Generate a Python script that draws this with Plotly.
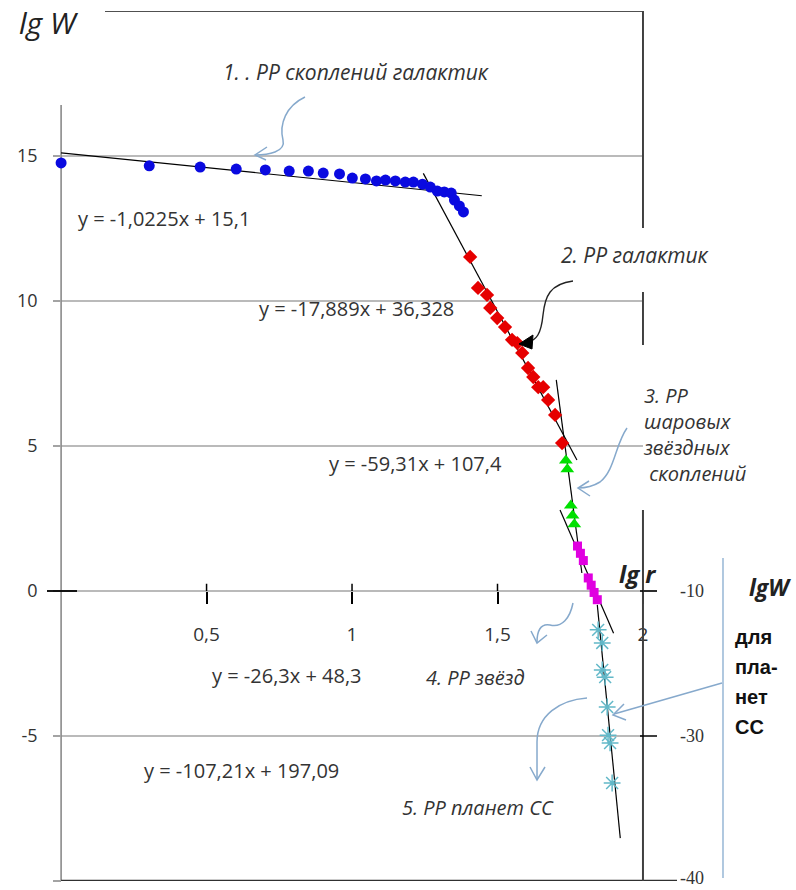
import plotly.graph_objects as go

# ---------------- data ----------------
blue_x = [0.0, 0.303, 0.478, 0.602, 0.702, 0.784, 0.850, 0.901, 0.957, 1.001, 1.046, 1.084,
          1.115, 1.149, 1.183, 1.211, 1.242, 1.269, 1.293, 1.317, 1.341, 1.352, 1.369, 1.383]
blue_y = [14.76, 14.66, 14.62, 14.55, 14.52, 14.48, 14.48, 14.41, 14.38, 14.24, 14.21, 14.14,
          14.17, 14.14, 14.10, 14.10, 14.03, 13.93, 13.79, 13.76, 13.72, 13.48, 13.28, 13.07]

red_x = [1.406, 1.433, 1.464, 1.475, 1.499, 1.526, 1.550, 1.568, 1.585, 1.605, 1.623, 1.640,
         1.657, 1.674, 1.698, 1.722]
red_y = [11.52, 10.45, 10.21, 9.76, 9.41, 9.10, 8.66, 8.55, 8.21, 7.69, 7.38, 7.03,
         7.03, 6.59, 6.07, 5.10]

green_x = [1.735, 1.740, 1.752, 1.758, 1.764]
green_y = [4.50, 4.20, 2.95, 2.60, 2.30]

magenta_x = [1.775, 1.785, 1.795, 1.812, 1.822, 1.832, 1.843]
magenta_y = [1.55, 1.30, 1.05, 0.45, 0.20, -0.05, -0.30]

cyan_x = [1.846, 1.860, 1.860, 1.870, 1.877, 1.880, 1.887, 1.894]
cyan_y = [-1.34, -1.79, -2.72, -2.97, -4.00, -4.97, -5.24, -6.62]

# trend lines: endpoints
trend_x = [[0.0, 1.446], [1.245, 1.773], [1.702, 1.790], [1.715, 1.899], [1.843, 1.922]]
trend_y = [[15.11, 13.63], [14.40, 4.52], [7.28, 0.62], [2.79, -1.46], [-0.48, -8.52]]
trend_labels = ["y = -1,0225x + 15,1", "y = -17,889x + 36,328", "y = -59,31x + 107,4",
                "y = -26,3x + 48,3", "y = -107,21x + 197,09"]

x_tick_vals = [0.5, 1, 1.5, 2]
x_tick_text = ["0,5", "1", "1,5", "2"]
y_tick_vals = [-10, -5, 0, 5, 10, 15]
y_tick_text = ["-10", "-5", "0", "5", "10", "15"]
grid_vals = [15, 10, 5, 0, -5]
right_tick_vals = [0, -5, -10]
right_tick_text = ["-10", "-30", "-40"]
planet_note = ["для", "пла-", "нет", "СС"]

# ---------------- layout helpers ----------------
W, H = 796, 890
XR = [-0.21, 2.526]
YR = [-10, 20]
MT, MB = 11, 9


def P(px, py):
    """pixel position of the page -> data coordinates (for decorations only)"""
    x = XR[0] + px / W * (XR[1] - XR[0])
    y = YR[1] - (py - MT) / (H - MT - MB) * (YR[1] - YR[0])
    return x, y


def path_from(pts, cmds):
    s = ""
    i = 0
    for c in cmds:
        n = {"M": 1, "L": 1, "C": 3}[c]
        s += c + " " + " ".join("%.4f,%.4f" % P(*pts[i + k]) for k in range(n)) + " "
        i += n
    return s.strip()


fig = go.Figure()

TXT = "#333333"
FONT = "Open Sans"
ARROW = "#86a9cc"

# trend lines
for tx, ty in zip(trend_x, trend_y):
    fig.add_trace(go.Scatter(x=tx, y=ty, mode="lines", line=dict(color="black", width=1.2),
                             hoverinfo="skip", showlegend=False))

fig.add_trace(go.Scatter(x=blue_x, y=blue_y, mode="markers", showlegend=False,
                         marker=dict(symbol="circle", size=11, color="#0a0ae0")))
fig.add_trace(go.Scatter(x=red_x, y=red_y, mode="markers", showlegend=False,
                         marker=dict(symbol="diamond", size=11, color="#e60000")))
fig.add_trace(go.Scatter(x=green_x, y=green_y, mode="markers", showlegend=False,
                         marker=dict(symbol="triangle-up", size=12, color="#00e000")))
fig.add_trace(go.Scatter(x=magenta_x, y=magenta_y, mode="markers", showlegend=False,
                         marker=dict(symbol="square", size=9, color="#e000e0")))
fig.add_trace(go.Scatter(x=cyan_x, y=cyan_y, mode="markers", showlegend=False,
                         marker=dict(symbol="asterisk-open", size=14, color="#62b8c8",
                                     line=dict(color="#62b8c8", width=1.5))))

shapes = []
# grid lines
for g in grid_vals:
    shapes.append(dict(type="line", xref="x", yref="y", x0=0, x1=2, y0=g, y1=g,
                       line=dict(color="#a3a3a3", width=1.6), layer="below"))
# frame
x0l, ytopl = P(0, 105)
shapes.append(dict(type="line", x0=0, x1=0, y0=-10, y1=ytopl, line=dict(color="#8a8a8a", width=1.6), layer="below"))
xt0, _ = P(105, 0)
shapes.append(dict(type="line", x0=xt0, x1=2, y0=20, y1=20, line=dict(color="#505050", width=2.2)))
xb1, _ = P(677, 0)
shapes.append(dict(type="line", x0=0, x1=xb1, y0=-10, y1=-10, line=dict(color="#303030", width=2.4)))
for a, b in [(11, 228), (292, 345), (510, 881)]:
    _, ya = P(0, a)
    _, yb = P(0, b)
    shapes.append(dict(type="line", x0=2, x1=2, y0=ya, y1=yb, line=dict(color="#404040", width=2)))
# black ticks on x axis (crossing) and at y = 0
for v in x_tick_vals[:-1]:
    shapes.append(dict(type="line", x0=v, x1=v, y0=0.25, y1=0, line=dict(color="black", width=1.5)))
xa, _ = P(47, 0)
xb, _ = P(77, 0)
shapes.append(dict(type="line", x0=xa, x1=xb, y0=0, y1=0, line=dict(color="black", width=1.8)))
# right secondary-axis ticks
xr0, _ = P(640, 0)
xr1, _ = P(657, 0)
xz1, _ = P(657, 0)
shapes.append(dict(type="line", x0=2, x1=xz1, y0=0, y1=0, line=dict(color="#a3a3a3", width=1.6)))
for v in right_tick_vals[:2]:
    shapes.append(dict(type="line", x0=xr0, x1=xr1, y0=v, y1=v, line=dict(color="black", width=1.5)))
# light blue divider
xd, yd0 = P(723, 558)
_, yd1 = P(723, 878)
shapes.append(dict(type="line", x0=xd, x1=xd, y0=yd0, y1=yd1, line=dict(color="#9dbbd8", width=1.6)))

# curvy arrows
def add_path(pts, cmds, color, width=1.5, fill=None):
    d = dict(type="path", xref="x", yref="y", path=path_from(pts, cmds) + (" Z" if fill else ""),
             line=dict(color=color, width=width))
    if fill:
        d["fillcolor"] = fill
    shapes.append(d)

# 1
add_path([(305, 97), (286, 106), (279, 124), (283, 140), (286, 152), (268, 155), (255, 155)], "MCC", ARROW)
add_path([(267, 147), (255, 155), (266, 160)], "MLL", ARROW)
# 2 (black)
add_path([(573, 281), (550, 284), (545, 296), (543, 315), (541, 335), (536, 340), (528, 342)], "MCC", "#222222", 1.4)
add_path([(519, 344), (533, 335), (532, 349)], "MLL", "black", 1, fill="black")
# 3
add_path([(627, 428), (615, 445), (615, 470), (600, 482), (592, 487), (585, 488), (578, 488)], "MCC", ARROW)
add_path([(589, 481), (578, 488), (590, 496)], "MLL", ARROW)
# 4
add_path([(573, 603), (570, 618), (562, 628), (550, 625), (540, 623), (537, 632), (537, 642)], "MCC", ARROW)
add_path([(531, 631), (537, 643), (547, 635)], "MLL", ARROW)
# 5
add_path([(587, 698), (560, 700), (537, 715), (537, 742), (537, 779)], "MCL", ARROW)
add_path([(530, 767), (537, 780), (545, 767)], "MLL", ARROW)
# 6 straight
add_path([(722, 683), (614, 714)], "ML", ARROW)
add_path([(624, 704), (613, 715), (626, 720)], "MLL", ARROW)

ann = []


def A(text, px, py, size=17, italic=False, bold=False, color=TXT, align="center", xanchor="center",
      family=FONT):
    x, y = P(px, py)
    t = text
    if bold:
        t = "<b>" + t + "</b>"
    if italic:
        t = "<i>" + t + "</i>"
    ann.append(dict(x=x, y=y, xref="x", yref="y", text=t, showarrow=False, align=align,
                    xanchor=xanchor, yanchor="middle",
                    font=dict(size=size, color=color, family=family)))


A("lg W", 49, 22, size=30, italic=True, color="#222222")
A("1. . РР скоплений галактик", 356, 72, size=21, italic=True)
A("2. РР галактик", 635, 255, size=21, italic=True)
A("3. РР<br>шаровых<br>звёздных<br>&nbsp;скоплений", 641, 434, size=20, italic=True, xanchor="left", align="left")
A("4. РР звёзд", 475, 677, size=20, italic=True)
A("5. РР планет СС", 478, 807, size=20, italic=True)
A("lg r", 637, 573, size=24, italic=True, bold=True, color="#222222")
A("lgW", 770, 587, size=23, italic=True, bold=True, color="#222222")
for i, line in enumerate(planet_note):
    A(line, 733, 637 + 30 * i, size=20, bold=True, color="#111111", xanchor="left", align="left",
      family="Liberation Sans")

label_pos = [(164, 218), (356, 308), (415, 463), (287, 675), (241, 770)]
for lab, (px, py) in zip(trend_labels, label_pos):
    A(lab, px, py, size=20)

for v, t in zip(right_tick_vals, right_tick_text):
    xr, _ = P(692, 0)
    ann.append(dict(x=xr, y=v, xref="x", yref="y", text=t, showarrow=False,
                    yshift=(3 if v == -10 else 0),
                    font=dict(size=18, color=TXT, family="Liberation Serif")))

fig.update_layout(
    width=W, height=H,
    margin=dict(l=0, r=0, t=MT, b=MB, autoexpand=False),
    paper_bgcolor="white", plot_bgcolor="white",
    showlegend=False,
    shapes=shapes,
    annotations=ann,
    xaxis=dict(range=XR, showgrid=False, zeroline=False, showline=False, automargin=False,
               anchor="free", position=(0 - YR[0]) / (YR[1] - YR[0]),
               tickmode="array", tickvals=x_tick_vals, ticktext=x_tick_text,
               ticks="outside", ticklen=12, tickwidth=1.5, tickcolor="black",
               ticklabelstandoff=14,
               tickfont=dict(size=19, color=TXT, family=FONT)),
    yaxis=dict(range=YR, showgrid=False, zeroline=False, showline=False, automargin=False,
               anchor="free", position=(0 - XR[0]) / (XR[1] - XR[0]),
               tickmode="array", tickvals=y_tick_vals, ticktext=y_tick_text,
               ticks="outside", ticklen=8, tickwidth=1.5, tickcolor="#a3a3a3",
               ticklabelstandoff=12,
               tickfont=dict(size=18, color=TXT, family=FONT)),
)

fig.write_html("out.html", config={"displayModeBar": False},
               post_script="document.body.style.margin='0px';")
